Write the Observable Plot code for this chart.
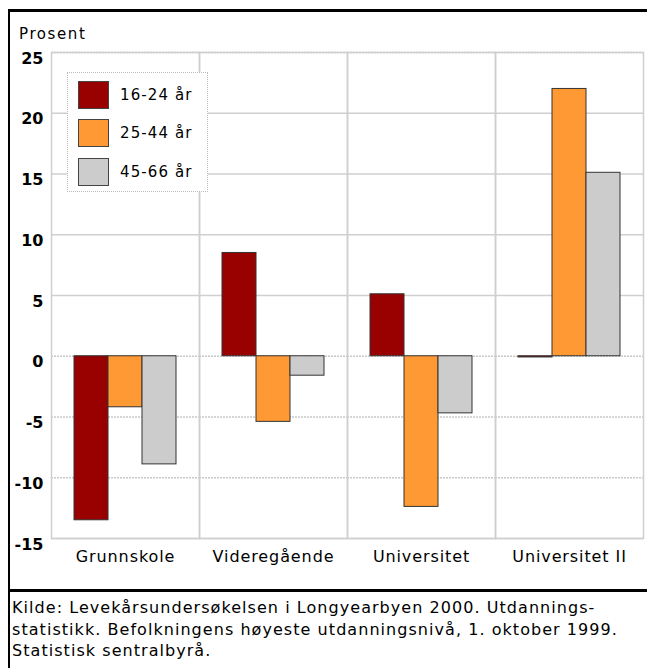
<!DOCTYPE html>
<html>
<head>
<meta charset="utf-8">
<script src="https://cdn.jsdelivr.net/npm/d3@7"></script>
<script src="https://cdn.jsdelivr.net/npm/@observablehq/plot@0.6"></script>
<style>
  html, body { margin: 0; padding: 0; background: #fff; overflow: hidden; }
  body { width: 647px; height: 668px; position: relative; font-family: "DejaVu Sans", sans-serif; color: #000; }
  #frame { position: absolute; left: 8px; top: 9px; width: 700px; height: 700px; border-left: 2px solid #000; border-top: 3px solid #000; box-sizing: border-box; }
  #divider { position: absolute; left: 8px; top: 589px; width: 700px; height: 3px; background: #000; }
  #chart { position: absolute; left: 0; top: 0; }
  #ylabel { position: absolute; left: 19px; top: 25px; font-size: 15px; letter-spacing: 1.6px; }
  #legend { position: absolute; left: 67px; top: 72px; width: 141px; height: 120px; box-sizing: border-box; border: 1.5px dotted #bbb; background: #fff; }
  .item { position: absolute; left: 10px; height: 29px; display: flex; align-items: center; }
  .sw { width: 31px; height: 28px; box-sizing: border-box; border: 1px solid #444; margin-right: 11px; }
  .lab { font-size: 15px; letter-spacing: 1.1px; }
  #caption { position: absolute; left: 12px; top: 597px; font-size: 16px; line-height: 21.5px; letter-spacing: 1.05px; white-space: nowrap; }
</style>
</head>
<body>
<div id="chart"></div>
<div id="frame"></div>
<div id="divider"></div>
<div id="ylabel">Prosent</div>
<div id="legend"></div>
<div id="caption">Kilde: Levekårsundersøkelsen i Longyearbyen 2000. Utdannings-<br>statistikk. Befolkningens høyeste utdanningsnivå, 1. oktober 1999.<br>Statistisk sentralbyrå.</div>
<script>
const categories = ["Grunnskole", "Videregående", "Universitet", "Universitet II"];
const series = ["16-24 år", "25-44 år", "45-66 år"];
const values16_24 = [-13.5, 8.5, 5.1, -0.1];
const values25_44 = [-4.2, -5.4, -12.4, 22.0];
const values45_66 = [-8.9, -1.6, -4.7, 15.1];
const yTicks = [-15, -10, -5, 0, 5, 10, 15, 20, 25];
const solidGrid = [-15, 5, 10, 15, 20];
const dottedGrid = [-10, -5, 0, 25];
const colors = ["#990000", "#ff9933", "#cccccc"];

const seriesValues = [values16_24, values25_44, values45_66];
const data = [];
categories.forEach((c, i) => {
  series.forEach((s, j) => data.push({category: c, series: s, value: seriesValues[j][i]}));
});

const chart = Plot.plot({
  width: 647,
  height: 580,
  marginLeft: 50,
  marginRight: 4,
  marginTop: 52,
  marginBottom: 42,
  style: {fontFamily: "DejaVu Sans, sans-serif", fontSize: "15px", color: "#000", background: "transparent", overflow: "visible"},
  fx: {domain: categories, padding: 0, label: null},
  x: {domain: series, paddingInner: 0, paddingOuter: 0.66, axis: null},
  y: {domain: [-15, 25], label: null},
  color: {type: "ordinal", domain: series, range: colors},
  marks: [
    Plot.ruleY(solidGrid, {stroke: "#cfcfcf", strokeWidth: 1.5}),
    Plot.ruleY(dottedGrid, {stroke: "#c8c8c8", strokeWidth: 1.5, strokeDasharray: "2,1"}),
    Plot.frame({stroke: "#cfcfcf", strokeWidth: 1.5}),
    Plot.barY(data, {fx: "category", x: "series", y: "value", fill: "series", stroke: "#333", strokeWidth: 1}),
    Plot.axisY({ticks: yTicks, tickSize: 0, tickPadding: 8, dy: 6, fontSize: 16, fontWeight: "bold", tickFormat: d => String(d), label: null}),
    Plot.axisFx({anchor: "bottom", tickSize: 0, tickPadding: 12, fontSize: 16, label: null})
  ]
});
document.getElementById("chart").appendChild(chart);
// widen the category labels slightly, as in the reference
chart.querySelectorAll("g[aria-label='fx-axis tick label'] text").forEach(t => t.setAttribute("letter-spacing", "0.9"));

const legend = document.getElementById("legend");
series.forEach((s, j) => {
  const it = document.createElement("div");
  it.className = "item";
  it.style.top = (7 + j * 38.5) + "px";
  const sw = document.createElement("div");
  sw.className = "sw";
  sw.style.background = colors[j];
  const lab = document.createElement("span");
  lab.className = "lab";
  lab.textContent = s;
  it.appendChild(sw);
  it.appendChild(lab);
  legend.appendChild(it);
});
</script>
</body>
</html>
